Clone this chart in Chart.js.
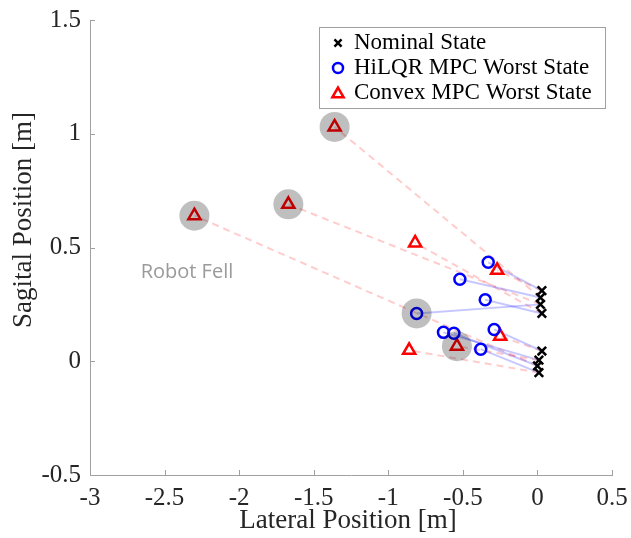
<!DOCTYPE html>
<html>
<head>
<meta charset="utf-8">
<script src="https://cdn.jsdelivr.net/npm/chart.js@4/dist/chart.umd.min.js"></script>
<style>
    html, body { margin: 0; padding: 0; background: #fff; }
    #wrap { width: 631px; height: 538px; }
</style>
</head>
<body>
<div id="wrap"><canvas id="chart" width="631" height="538"></canvas></div>
<script>
// Trial data: nominal end state, HiLQR worst state, convex MPC worst state
const nominalX = [0.03, 0.02, 0.02, 0.03, 0.03, 0.01, 0.00, 0.01];
const nominalY = [0.31, 0.28, 0.25, 0.21, 0.045, 0.005, -0.02, -0.05];
const hilqrX = [-0.33, -0.52, -0.81, -0.35, -0.29, -0.63, -0.56, -0.38];
const hilqrY = [0.435, 0.36, 0.21, 0.27, 0.14, 0.127, 0.123, 0.053];
const convexX = [-0.27, -1.36, -1.67, -0.82, -0.25, -0.54, -2.30, -0.86];
const convexY = [0.40, 1.03, 0.69, 0.52, 0.11, 0.066, 0.64, 0.048];

// states where the robot fell
const fellX = [-1.36, -1.67, -2.30, -0.81, -0.54];
const fellY = [1.03, 0.69, 0.64, 0.21, 0.066];

const xTicks = [-3, -2.5, -2, -1.5, -1, -0.5, 0, 0.5];
const yTicks = [-0.5, 0, 0.5, 1, 1.5];

const seriesLabels = ['Nominal State', 'HiLQR MPC Worst State', 'Convex MPC Worst State'];
const noteText = 'Robot Fell';

const SERIF = '"Liberation Serif", "DejaVu Serif", serif';

const toPoints = (xs, ys) => xs.map((x, i) => ({ x: x, y: ys[i] }));

const nominalPts = toPoints(nominalX, nominalY);
const hilqrPts = toPoints(hilqrX, hilqrY);
const convexPts = toPoints(convexX, convexY);
const fellPts = toPoints(fellX, fellY);

const datasets = [];

// connecting lines, drawn first (highest order = drawn underneath)
nominalPts.forEach((p, i) => {
    datasets.push({
        label: 'link-hilqr-' + i,
        data: [p, hilqrPts[i]],
        showLine: true,
        borderColor: 'rgba(0, 0, 255, 0.22)',
        borderWidth: 2,
        pointRadius: 0,
        order: 10
    });
    datasets.push({
        label: 'link-convex-' + i,
        data: [p, convexPts[i]],
        showLine: true,
        borderColor: 'rgba(255, 0, 0, 0.2)',
        borderWidth: 2,
        borderDash: [7, 5],
        pointRadius: 0,
        order: 10
    });
});

datasets.push({
    label: seriesLabels[0],
    data: nominalPts,
    pointStyle: 'crossRot',
    pointRadius: 6,
    borderWidth: 2.5,
    borderColor: '#000',
    backgroundColor: 'rgba(0,0,0,0)',
    order: 3
});
datasets.push({
    label: seriesLabels[1],
    data: hilqrPts,
    pointStyle: 'circle',
    pointRadius: 5.5,
    borderWidth: 2.5,
    borderColor: '#0000ff',
    backgroundColor: 'rgba(0,0,0,0)',
    order: 2
});
datasets.push({
    label: seriesLabels[2],
    data: convexPts,
    pointStyle: 'triangle',
    pointRadius: 7,
    borderWidth: 2.5,
    borderColor: '#ff0000',
    backgroundColor: 'rgba(0,0,0,0)',
    order: 2
});
datasets.push({
    label: 'fell',
    data: fellPts,
    pointStyle: 'circle',
    pointRadius: 15,
    borderWidth: 0,
    backgroundColor: 'rgba(0, 0, 0, 0.25)',
    order: 0
});

// inward ticks, axis titles, note text and legend box
const decorations = {
    id: 'decorations',
    afterDraw(chart) {
        const ctx = chart.ctx;
        const xs = chart.scales.x;
        const ys = chart.scales.y;
        const area = chart.chartArea;

        ctx.save();
        ctx.strokeStyle = '#a0a0a0';
        ctx.lineWidth = 1;
        xTicks.forEach(v => {
            const px = Math.round(xs.getPixelForValue(v)) + 0.5;
            ctx.beginPath();
            ctx.moveTo(px, area.bottom);
            ctx.lineTo(px, area.bottom - 5);
            ctx.stroke();
        });
        yTicks.forEach(v => {
            const py = Math.round(ys.getPixelForValue(v)) + 0.5;
            ctx.beginPath();
            ctx.moveTo(area.left, py);
            ctx.lineTo(area.left + 5, py);
            ctx.stroke();
        });

        // axis titles
        ctx.fillStyle = '#262626';
        ctx.font = '27px ' + SERIF;
        ctx.textAlign = 'center';
        ctx.textBaseline = 'middle';
        ctx.fillText('Lateral Position [m]', (area.left + area.right) / 2 - 3, 521);
        ctx.save();
        ctx.translate(24, 220);
        ctx.rotate(-Math.PI / 2);
        ctx.fillText('Sagital Position [m]', 0, 0);
        ctx.restore();

        // note
        ctx.fillStyle = '#9a9a9a';
        ctx.font = '20px "Open Sans", sans-serif';
        ctx.fillText(noteText, xs.getPixelForValue(-2.35), ys.getPixelForValue(0.39));

        // legend
        const lx = 319, ly = 27, lw = 286, lh = 81;
        ctx.fillStyle = '#fff';
        ctx.fillRect(lx, ly, lw, lh);
        ctx.strokeStyle = '#a0a0a0';
        ctx.lineWidth = 1;
        ctx.strokeRect(lx + 0.5, ly + 0.5, lw, lh);

        const rows = [43, 68, 93];
        const styles = [
            { pointStyle: 'crossRot', radius: 5, borderWidth: 2.5, color: '#000' },
            { pointStyle: 'circle', radius: 5, borderWidth: 2.5, color: '#0000ff' },
            { pointStyle: 'triangle', radius: 6.5, borderWidth: 2.5, color: '#ff0000' }
        ];
        styles.forEach((s, i) => {
            ctx.strokeStyle = s.color;
            ctx.fillStyle = 'rgba(0,0,0,0)';
            ctx.lineWidth = s.borderWidth;
            Chart.helpers.drawPoint(ctx, {
                pointStyle: s.pointStyle,
                radius: s.radius,
                borderWidth: s.borderWidth,
                rotation: 0
            }, 338, rows[i] + (s.pointStyle === 'triangle' ? 1 : 0));
        });
        ctx.fillStyle = '#000';
        ctx.font = '23px ' + SERIF;
        ctx.textAlign = 'left';
        ctx.textBaseline = 'middle';
        seriesLabels.forEach((t, i) => ctx.fillText(t, 354, rows[i]));
        ctx.restore();
    }
};

new Chart(document.getElementById('chart'), {
    type: 'scatter',
    data: { datasets: datasets },
    options: {
        responsive: false,
        animation: false,
        events: [],
        layout: { padding: { top: 20, right: 19, left: 0, bottom: 0 } },
        plugins: {
            legend: { display: false },
            tooltip: { enabled: false }
        },
        scales: {
            x: {
                type: 'linear',
                min: -3,
                max: 0.5,
                afterFit: s => {
                    s.height = 63;
                    s.paddingLeft = 0;
                    s.paddingRight = 0;
                },
                afterBuildTicks: s => { s.ticks = xTicks.map(v => ({ value: v })); },
                grid: { drawOnChartArea: false, drawTicks: false },
                border: { display: true, color: '#a0a0a0', width: 1 },
                ticks: {
                    color: '#262626',
                    padding: 8,
                    maxRotation: 0,
                    callback: v => String(v),
                    font: { family: SERIF, size: 25 }
                }
            },
            y: {
                type: 'linear',
                min: -0.5,
                max: 1.5,
                afterFit: s => {
                    s.width = 90;
                    s.paddingTop = 0;
                    s.paddingBottom = 0;
                },
                afterBuildTicks: s => { s.ticks = yTicks.map(v => ({ value: v })); },
                grid: { drawOnChartArea: false, drawTicks: false },
                border: { display: true, color: '#a0a0a0', width: 1 },
                ticks: {
                    color: '#262626',
                    padding: 9,
                    callback: v => String(v),
                    font: { family: SERIF, size: 25 }
                }
            }
        }
    },
    plugins: [decorations]
});
</script>
</body>
</html>
